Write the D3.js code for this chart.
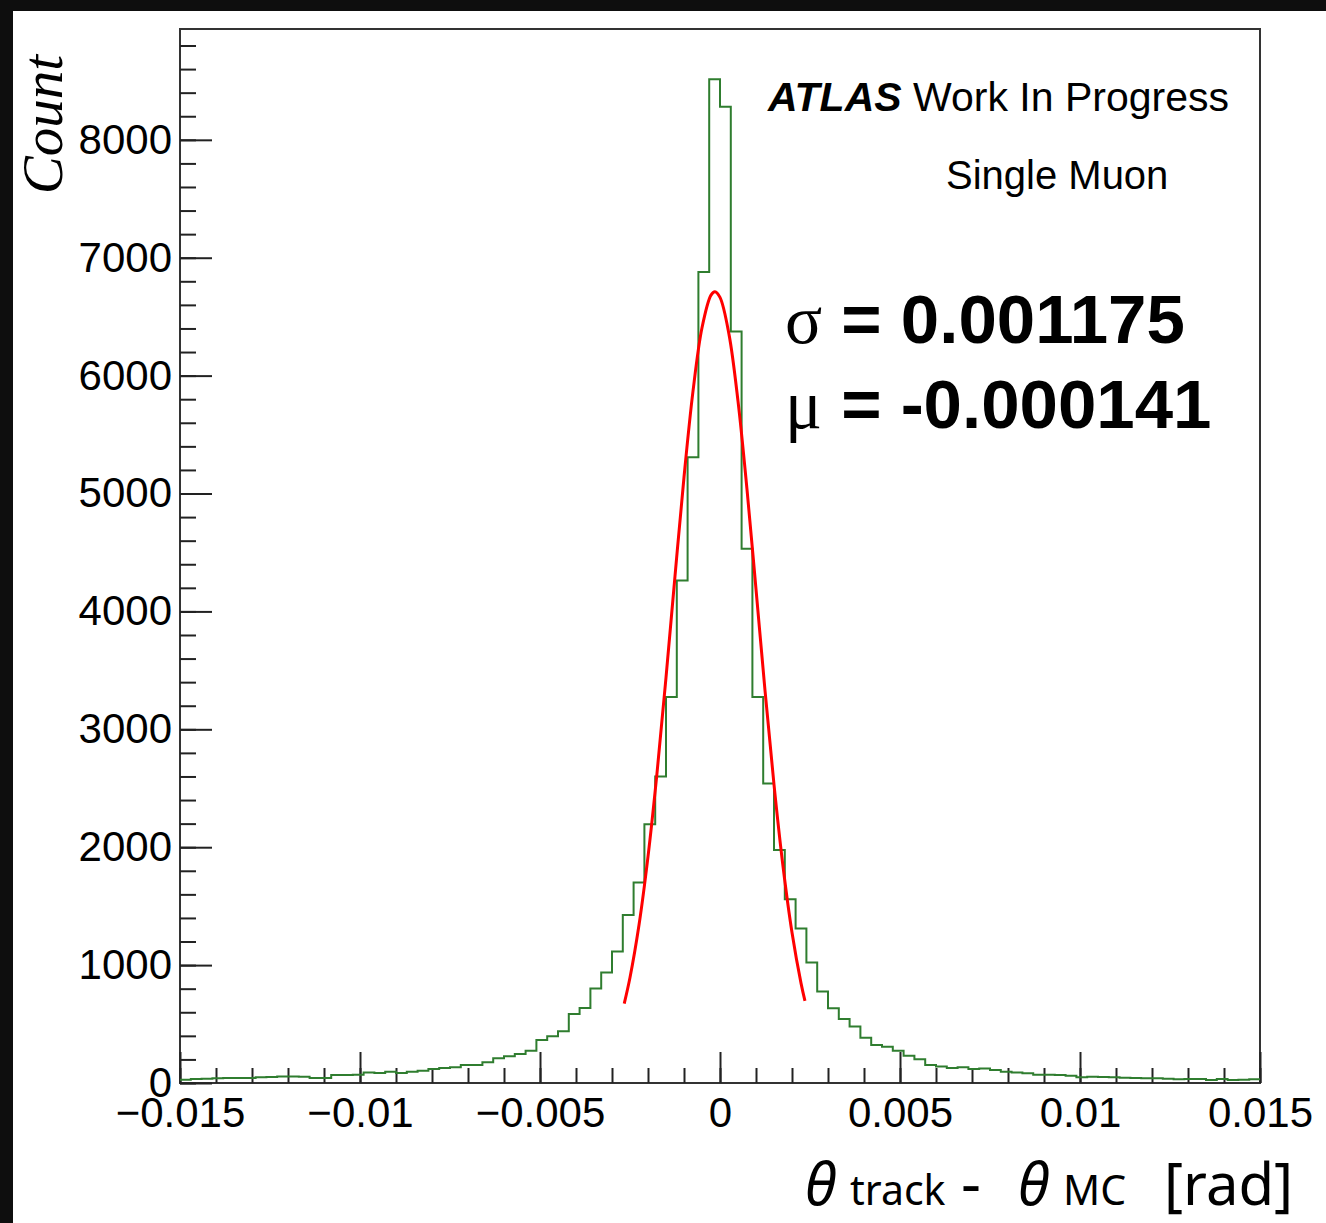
<!DOCTYPE html>
<html><head><meta charset="utf-8">
<script src="https://cdn.jsdelivr.net/npm/d3@7"></script>
<style>html,body{margin:0;padding:0;background:#fff;} svg{display:block}</style>
</head><body>
<script>
// ---- data ----
const histRange = [-0.015, 0.015];
const binCounts = [
  28, 34, 37, 40, 42, 42, 42, 48, 51, 56,
  56, 53, 42, 42, 68, 68, 70, 90, 85, 96,
  85, 96, 104, 119, 127, 133, 153, 153, 175, 209,
  226, 246, 274, 364, 396, 438, 585, 636, 802, 938,
  1116, 1426, 1701, 2195, 2599, 3274, 4263, 5308, 6879, 8514,
  8280, 6375, 4531, 3274, 2540, 1977, 1559, 1311, 1023, 777,
  633, 542, 480, 384, 322, 308, 274, 231, 201, 153,
  141, 127, 133, 119, 124, 110, 96, 90, 82, 70,
  70, 68, 62, 48, 53, 51, 48, 45, 42, 40,
  40, 37, 31, 34, 34, 25, 34, 25, 28, 31
];
const fitX = [-0.00266, -0.0025, -0.00225, -0.002, -0.00175, -0.0015, -0.00125, -0.001, -0.00075, -0.0005, -0.00025, -0.000141, 0, 0.00025, 0.0005, 0.00075, 0.001, 0.00125, 0.0015, 0.00175, 0.002, 0.00225, 0.00236];
const fitY = [674, 895, 1340, 1920, 2628, 3439, 4300, 5138, 5868, 6406, 6683, 6712, 6664, 6350, 5784, 5035, 4189, 3331, 2531, 1838, 1276, 847, 697];
const yTickValues = [0, 1000, 2000, 3000, 4000, 5000, 6000, 7000, 8000];
const yTickLabels = ["0", "1000", "2000", "3000", "4000", "5000", "6000", "7000", "8000"];
const xTickValues = [-0.015, -0.01, -0.005, 0, 0.005, 0.01, 0.015];
const xTickLabels = ["\u22120.015", "\u22120.01", "\u22120.005", "0", "0.005", "0.01", "0.015"];
const sigmaText = "0.001175";
const muText = "-0.000141";

// ---- layout ----
const W = 1326, H = 1223;
const L = 180, R = 1260, T = 29, B = 1083;
const sans = "'Liberation Sans', Arial, Helvetica, sans-serif";
const serif = "'Liberation Serif', 'Times New Roman', serif";
const lab = "'Noto Sans', 'DejaVu Sans', sans-serif";

const svg = d3.select("body").append("svg").attr("width", W).attr("height", H);
svg.append("rect").attr("width", W).attr("height", H).attr("fill", "#fff");
svg.append("rect").attr("x", 0).attr("y", 0).attr("width", W).attr("height", 11).attr("fill", "#0e0e0e");
svg.append("rect").attr("x", 0).attr("y", 0).attr("width", 13).attr("height", H).attr("fill", "#0e0e0e");

const x = d3.scaleLinear().domain(histRange).range([L, R]);
const y = d3.scaleLinear().domain([0, 8940]).range([B, T]);

// frame
svg.append("rect").attr("x", L).attr("y", T).attr("width", R - L).attr("height", B - T)
  .attr("fill", "none").attr("stroke", "#333").attr("stroke-width", 2);

function styleAxis(g) {
  g.select(".domain").remove();
  g.selectAll(".tick line").attr("stroke", "#222").attr("stroke-width", 2);
  g.selectAll("text").attr("fill", "#000").style("font-family", sans).style("font-size", "42px");
}

// y axis
const yMinor = d3.range(0, 8900, 200);
svg.append("g").attr("transform", `translate(${L},0)`)
  .call(d3.axisLeft(y).tickValues(yMinor).tickSize(-16).tickFormat(""))
  .call(styleAxis);
svg.append("g").attr("transform", `translate(${L},0)`)
  .call(d3.axisLeft(y).tickValues(yTickValues).tickSize(-32).tickPadding(8)
    .tickFormat((d, i) => yTickLabels[i]))
  .call(styleAxis);

// x axis
const xMinor = d3.range(-15, 16, 1).map(v => v / 1000);
svg.append("g").attr("transform", `translate(0,${B})`)
  .call(d3.axisBottom(x).tickValues(xMinor).tickSize(-15).tickFormat(""))
  .call(styleAxis);
svg.append("g").attr("transform", `translate(0,${B})`)
  .call(d3.axisBottom(x).tickValues(xTickValues).tickSize(-31).tickPadding(14)
    .tickFormat((d, i) => xTickLabels[i]))
  .call(styleAxis);

// histogram
const bw = (histRange[1] - histRange[0]) / binCounts.length;
const histPts = binCounts.map((c, i) => [histRange[0] + i * bw, c]);
histPts.push([histRange[1], binCounts[binCounts.length - 1]]);
svg.append("path").datum(histPts)
  .attr("d", d3.line().x(d => x(d[0])).y(d => y(d[1])).curve(d3.curveStepAfter))
  .attr("fill", "none").attr("stroke", "#2f7d2f").attr("stroke-width", 2);

// fit
const fitPts = fitX.map((v, i) => [v, fitY[i]]);
svg.append("path").datum(fitPts)
  .attr("d", d3.line().x(d => x(d[0])).y(d => y(d[1])).curve(d3.curveCatmullRom))
  .attr("fill", "none").attr("stroke", "#ff0000").attr("stroke-width", 3);

// y label
svg.append("text").attr("transform", "translate(62,55) rotate(-90)")
  .attr("text-anchor", "end").style("font-family", serif).style("font-style", "italic")
  .style("font-size", "57px").attr("fill", "#000").text("Count");

// annotations
const t1 = svg.append("text").attr("x", 768).attr("y", 111).style("font-family", sans).style("font-size", "41px");
t1.append("tspan").style("font-weight", "bold").style("font-style", "italic").text("ATLAS");
t1.append("tspan").text(" Work In Progress");
svg.append("text").attr("x", 946).attr("y", 189).style("font-family", sans).style("font-size", "40px").text("Single Muon");

const s1 = svg.append("text").attr("x", 785).attr("y", 343).style("font-size", "69px");
s1.append("tspan").style("font-family", serif).text("\u03c3");
s1.append("tspan").style("font-family", sans).style("font-weight", "bold").text(" = " + sigmaText);
const s2 = svg.append("text").attr("x", 785).attr("y", 428).style("font-size", "69px");
s2.append("tspan").style("font-family", serif).text("\u03bc");
s2.append("tspan").style("font-family", sans).style("font-weight", "bold").text(" = " + muText);

// x label
const xl = svg.append("g").style("font-family", lab).attr("fill", "#000");
xl.append("text").attr("x", 805).attr("y", 1205).style("font-size", "58px").style("font-style", "italic").text("\u03b8");
xl.append("text").attr("x", 850).attr("y", 1205).style("font-size", "41px").text("track");
xl.append("text").attr("x", 961).attr("y", 1205).style("font-size", "62px").text("-");
xl.append("text").attr("x", 1018).attr("y", 1205).style("font-size", "58px").style("font-style", "italic").text("\u03b8");
xl.append("text").attr("x", 1063).attr("y", 1205).style("font-size", "41px").text("MC");
xl.append("text").attr("x", 1164).attr("y", 1205).style("font-size", "58px").text("[rad]");
</script>
</body></html>
